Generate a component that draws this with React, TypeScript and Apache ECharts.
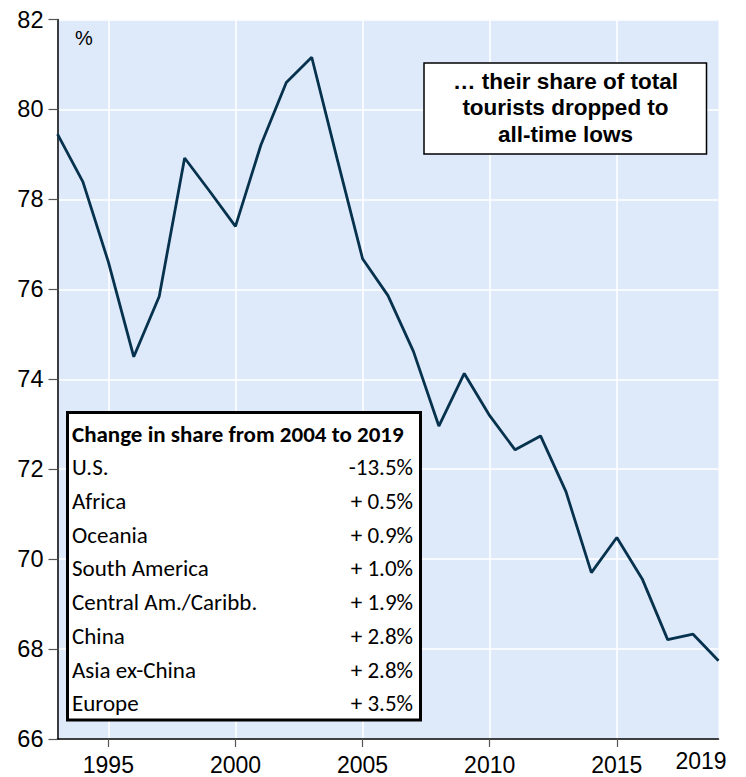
import React, { useEffect, useRef } from "react";
import * as echarts from "echarts";

const years = [1993,1994,1995,1996,1997,1998,1999,2000,2001,2002,2003,2004,2005,2006,2007,2008,2009,2010,2011,2012,2013,2014,2015,2016,2017,2018,2019];
const usShare = [79.45,78.39,76.61,74.5,75.84,78.92,78.17,77.4,79.21,80.6,81.16,78.9,76.68,75.86,74.62,72.96,74.13,73.19,72.43,72.74,71.5,69.7,70.48,69.56,68.21,68.33,67.74];
const yTicks = { min: 66, max: 82, interval: 2 };
const tableTitle = "Change in share from 2004 to 2019";
const regions = ["U.S.","Africa","Oceania","South America","Central Am./Caribb.","China","Asia ex-China","Europe"];
const changes = ["-13.5%","+ 0.5%","+ 0.9%","+ 1.0%","+ 1.9%","+ 2.8%","+ 2.8%","+ 3.5%"];
const noteLines = ["… their share of total","tourists dropped to","all-time lows"];
const unitLabel = "%";
const lastYearLabel = "2019";

export default function App() {
  const ref = useRef<HTMLDivElement>(null);
  useEffect(() => {
    document.body.style.margin = "0";
    const chart = echarts.init(ref.current!, null, { renderer: "svg" });
    const tableFont = "Carlito, Lato, sans-serif";
    const rowStep = 33.75;
    const Z = 100;
    const graphics: any[] = [
      {
        type: "text", x: 84, y: 38, z: Z,
        style: { text: unitLabel, font: "20px 'Liberation Sans', Arial, sans-serif", fill: "#000", align: "center", verticalAlign: "middle" },
      },
      {
        type: "text", x: 701, y: 761, z: Z,
        style: { text: lastYearLabel, font: "23px 'Liberation Sans', Arial, sans-serif", fill: "#000", align: "center", verticalAlign: "middle" },
      },
      {
        type: "rect", z: Z, shape: { x: 424, y: 63, width: 282.5, height: 91 },
        style: { fill: "#fff", stroke: "#000", lineWidth: 1.5 },
      },
      ...noteLines.map((t, i) => ({
        type: "text", x: 565.5, y: 81 + i * 26.5, z: Z + 1,
        style: { text: t, font: "bold 22.5px 'Liberation Sans', Arial, sans-serif", fill: "#000", align: "center", verticalAlign: "middle" },
      })),
      {
        type: "rect", z: Z, shape: { x: 67.5, y: 412.5, width: 353, height: 307.5 },
        style: { fill: "#fff", stroke: "#000", lineWidth: 3 },
      },
      {
        type: "text", x: 72, y: 433.5, z: Z + 1,
        style: { text: tableTitle, font: `bold 23px ${tableFont}`, fill: "#000", align: "left", verticalAlign: "middle" },
      },
      ...regions.map((r, i) => ({
        type: "text", x: 72, y: 467 + i * rowStep, z: Z + 1,
        style: { text: r, font: `23px ${tableFont}`, fill: "#000", align: "left", verticalAlign: "middle" },
      })),
      ...changes.map((c, i) => ({
        type: "text", x: 413, y: 467 + i * rowStep, z: Z + 1,
        style: { text: c, font: `23px ${tableFont}`, fill: "#000", align: "right", verticalAlign: "middle" },
      })),
    ];
    chart.setOption({
      animation: false,
      grid: { left: 57.5, right: 27.5, top: 19.5, bottom: 38, show: true, backgroundColor: "#dee9fa", borderWidth: 0, containLabel: false },
      xAxis: {
        type: "category",
        data: years.map(String),
        boundaryGap: false,
        axisLine: { show: true, lineStyle: { color: "#000", width: 1.5 } },
        axisTick: { show: true, length: 8, interval: (i: number, v: string) => Number(v) % 5 === 0, lineStyle: { color: "#555", width: 1.2 } },
        axisLabel: { show: true, interval: (i: number, v: string) => Number(v) % 5 === 0, color: "#000", fontSize: 23, fontFamily: "'Liberation Sans', Arial, sans-serif", margin: 14 },
        splitLine: { show: true, interval: (i: number, v: string) => Number(v) % 5 === 0 && Number(v) !== 1993 && Number(v) !== 2019, lineStyle: { color: "#fff", width: 1.5 } },
      },
      yAxis: {
        type: "value",
        min: yTicks.min, max: yTicks.max, interval: yTicks.interval,
        axisLine: { show: true, lineStyle: { color: "#000", width: 1.5 } },
        axisTick: { show: true, length: 9, lineStyle: { color: "#555", width: 1.2 } },
        axisLabel: { color: "#000", fontSize: 23.5, fontFamily: "'Liberation Sans', Arial, sans-serif", margin: 14 },
        splitLine: { show: true, lineStyle: { color: "#fff", width: 1.5 } },
      },
      series: [
        {
          type: "line",
          data: usShare,
          showSymbol: false,
          symbol: "none",
          lineStyle: { color: "#06324e", width: 2.8 },
          z: 3,
        },
      ],
      graphic: graphics,
    });
    return () => chart.dispose();
  }, []);
  return <div ref={ref} style={{ width: 746, height: 777 }} />;
}
